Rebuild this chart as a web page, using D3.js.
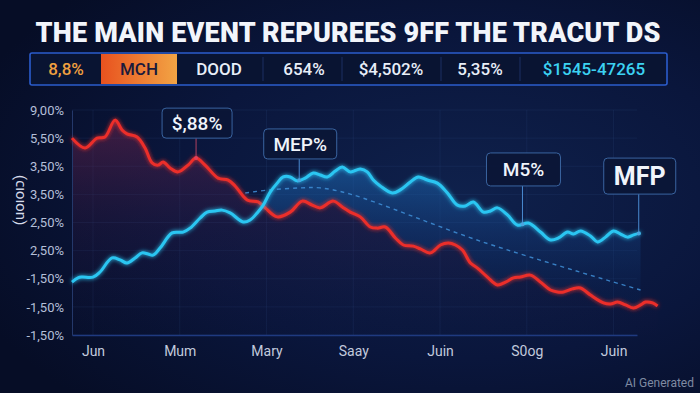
<!DOCTYPE html>
<html><head><meta charset="utf-8">
<script src="https://cdn.jsdelivr.net/npm/d3@7/dist/d3.min.js"></script>
<style>html,body{margin:0;padding:0;background:#08112e;overflow:hidden}svg{display:block}</style>
</head><body>
<script>
// ---- data ----
const title = "THE MAIN EVENT REPUREES 9FF THE TRACUT DS";
const tickerItems = ["8,8%","MCH","DOOD","654%","$4,502%","5,35%","$1545-47265"];
const xLabels = ["Jun","Mum","Mary","Saay","Juin","S0og","Juin"];
const yLabels = ["-1,50%","-1,50%","-1,50%","2,50%","2,50%","3,50%","3,50%","5,50%","9,00%"]; // bottom -> top
const yTitle = "(uoıoıɔ)";
const redSeries = [[-0.242,7.00],[-0.092,6.65],[0.046,7.00],[0.138,7.04],[0.254,7.64],[0.335,7.29],[0.392,7.15],[0.508,7.04],[0.600,6.65],[0.681,6.12],[0.750,6.04],[0.808,6.15],[0.888,5.94],[0.981,5.80],[1.096,6.04],[1.188,6.29],[1.292,6.04],[1.442,5.58],[1.558,5.51],[1.638,5.30],[1.777,4.80],[1.904,4.73],[1.985,4.52],[2.123,4.20],[2.273,4.37],[2.411,4.76],[2.527,4.62],[2.619,4.52],[2.769,4.76],[2.873,4.55],[2.965,4.37],[3.081,4.20],[3.196,3.84],[3.277,3.80],[3.369,3.84],[3.485,3.45],[3.577,3.20],[3.692,3.16],[3.773,3.06],[3.888,2.92],[4.004,3.20],[4.096,3.27],[4.177,3.20],[4.258,3.02],[4.350,2.56],[4.431,2.38],[4.546,2.06],[4.661,1.78],[4.754,1.88],[4.846,2.03],[4.927,2.06],[5.042,2.13],[5.158,1.88],[5.273,1.60],[5.354,1.53],[5.423,1.53],[5.527,1.64],[5.619,1.67],[5.734,1.42],[5.884,1.14],[5.965,1.10],[6.046,1.17],[6.138,1.07],[6.231,0.96],[6.311,1.07],[6.369,1.17],[6.450,1.14],[6.507,1.03]];
const blueSeries = [[-0.242,1.88],[-0.173,2.03],[-0.127,2.06],[0,2.06],[0.081,2.24],[0.219,2.74],[0.312,2.67],[0.392,2.56],[0.485,2.74],[0.565,2.92],[0.635,2.88],[0.692,2.84],[0.773,3.09],[0.912,3.63],[1.038,3.66],[1.119,3.80],[1.235,4.16],[1.315,4.37],[1.408,4.41],[1.488,4.44],[1.581,4.34],[1.731,4.02],[1.811,4.09],[1.892,4.34],[1.962,4.62],[2.042,5.08],[2.123,5.40],[2.192,5.62],[2.273,5.62],[2.354,5.48],[2.446,5.58],[2.538,5.76],[2.619,5.69],[2.700,5.62],[2.792,5.83],[2.873,5.97],[2.965,5.80],[3.081,5.90],[3.161,5.80],[3.231,5.51],[3.311,5.30],[3.450,5.05],[3.542,5.16],[3.658,5.44],[3.750,5.62],[3.854,5.51],[3.969,5.40],[4.085,5.05],[4.200,4.62],[4.292,4.59],[4.384,4.73],[4.500,4.37],[4.581,4.41],[4.661,4.52],[4.777,4.27],[4.892,3.91],[5.019,3.98],[5.158,3.66],[5.273,3.38],[5.365,3.45],[5.469,3.66],[5.538,3.59],[5.619,3.70],[5.734,3.52],[5.815,3.31],[5.907,3.48],[6.000,3.70],[6.081,3.59],[6.161,3.48],[6.231,3.56],[6.311,3.63]];
const trendSeries = [[1.754,5.05],[2.042,5.16],[2.388,5.23],[2.619,5.23],[2.965,5.01],[4.5,3.30],[6.311,1.60]];
const annLabels = ["$,88%","MEP%","M5%","MFP"];
const annX = [1.188,2.377,4.95,6.29];
const annSeries = ["red","blue","blue","blue"];
const annBoxLevel = [7.00,6.26,5.30,5.01];

// ---- layout ----
const W=700,H=393;
const m={left:72,right:637,top:110,bottom:335};
const x=d3.scaleLinear().domain([-0.242,6.27]).range([m.left,m.right]);
const y=d3.scaleLinear().domain([0,8]).range([m.bottom,m.top]);

const svg=d3.select("body").append("svg").attr("width",W).attr("height",H);
const defs=svg.append("defs");
const bg=defs.append("radialGradient").attr("id","bg").attr("cx","0.66").attr("cy","0.5").attr("r","0.75");
bg.append("stop").attr("offset","0").attr("stop-color","#0f214c");
bg.append("stop").attr("offset","0.55").attr("stop-color","#0a163c");
bg.append("stop").attr("offset","1").attr("stop-color","#060d26");
svg.append("rect").attr("width",W).attr("height",H).attr("fill","url(#bg)");

const gRed=defs.append("linearGradient").attr("id","gRed").attr("gradientUnits","userSpaceOnUse").attr("x1",0).attr("y1",y(7.6)).attr("x2",0).attr("y2",m.bottom);
gRed.append("stop").attr("offset","0").attr("stop-color","#8a2a55").attr("stop-opacity",0.42);
gRed.append("stop").attr("offset","0.5").attr("stop-color","#4a1c48").attr("stop-opacity",0.18);
gRed.append("stop").attr("offset","1").attr("stop-color","#201440").attr("stop-opacity",0.02);
const gBlue=defs.append("linearGradient").attr("id","gBlue").attr("gradientUnits","userSpaceOnUse").attr("x1",0).attr("y1",y(6)).attr("x2",0).attr("y2",y(1.5));
gBlue.append("stop").attr("offset","0").attr("stop-color","#1f78c8").attr("stop-opacity",0.5);
gBlue.append("stop").attr("offset","0.5").attr("stop-color","#16468a").attr("stop-opacity",0.38);
gBlue.append("stop").attr("offset","1").attr("stop-color","#0c2658").attr("stop-opacity",0.25);
const gMch=defs.append("linearGradient").attr("id","gMch");
gMch.append("stop").attr("offset","0").attr("stop-color","#e8521f");
gMch.append("stop").attr("offset","1").attr("stop-color","#f2a444");
const glow=defs.append("filter").attr("id","glow").attr("x","-10%").attr("y","-30%").attr("width","120%").attr("height","160%");
glow.append("feGaussianBlur").attr("stdDeviation",2.2).attr("result","b");
const fm=glow.append("feMerge"); fm.append("feMergeNode").attr("in","b"); fm.append("feMergeNode").attr("in","SourceGraphic");

// ---- title ----
const tt=svg.append("text").attr("x",348).attr("y",42).attr("text-anchor","middle")
 .attr("font-family","Roboto, 'Open Sans', sans-serif").attr("font-weight",900).attr("font-size",27)
 .attr("fill","#f2f5fb").text(title);
const tlen=tt.node().getComputedTextLength();
if(tlen>0){ const ls=Math.max(-1,Math.min(3,(625-tlen)/(title.length-1))); tt.attr("letter-spacing",ls.toFixed(2)); tt.attr("x",348+ls/2); }

// ---- ticker ----
const tk=svg.append("g");
tk.append("rect").attr("x",30).attr("y",53).attr("width",637).attr("height",32).attr("rx",2)
 .attr("fill","#091432").attr("stroke","#2b5ccc").attr("stroke-width",1.6);
tk.append("rect").attr("x",101).attr("y",54).attr("width",76).attr("height",30).attr("fill","url(#gMch)");
const tkCenters=[66,139,219,304,391,480,594];
const tkColors=["#f0a040","#1a1a3c","#e8eef8","#e8eef8","#e8eef8","#e8eef8","#3cd2f2"];
[263,342,441,520].forEach(sx=>tk.append("line").attr("x1",sx).attr("x2",sx).attr("y1",57).attr("y2",81).attr("stroke","#1c2f62").attr("stroke-width",1));
tk.selectAll("text.t").data(tickerItems).join("text").attr("class","t")
 .attr("x",(d,i)=>tkCenters[i]).attr("y",75).attr("text-anchor","middle")
 .attr("font-family","Roboto, 'Noto Sans', sans-serif").attr("font-weight",500).attr("font-size",17)
 .attr("fill",(d,i)=>tkColors[i]).text(d=>d);

// ---- grid ----
const grid=svg.append("g");
grid.selectAll("line.h").data(d3.range(yLabels.length)).join("line").attr("class","h")
 .attr("x1",m.left).attr("x2",m.right).attr("y1",d=>y(d)).attr("y2",d=>y(d))
 .attr("stroke","#3a5590").attr("stroke-opacity",0.16);
grid.selectAll("line.v").data(d3.range(xLabels.length)).join("line").attr("class","v")
 .attr("x1",d=>x(d)).attr("x2",d=>x(d)).attr("y1",m.top).attr("y2",m.bottom)
 .attr("stroke","#3a5590").attr("stroke-opacity",0.16);

// ---- areas ----
const curve=d3.curveCatmullRom.alpha(0.5);
const area=d3.area().x(d=>x(d[0])).y0(m.bottom).y1(d=>y(d[1])).curve(curve);
const areaTop=d3.area().x(d=>x(d[0])).y0(0).y1(d=>y(d[1])).curve(curve);
const line=d3.line().x(d=>x(d[0])).y(d=>y(d[1])).curve(curve);
defs.append("clipPath").attr("id","aboveRed").append("path").attr("d",areaTop(redSeries));
svg.append("path").attr("d",area(redSeries)).attr("fill","url(#gRed)");
svg.append("path").attr("d",area(blueSeries)).attr("fill","url(#gBlue)").attr("clip-path","url(#aboveRed)");

// ---- axes ----
const ax=svg.append("g").attr("transform",`translate(0,${m.bottom})`)
 .call(d3.axisBottom(x).tickValues(d3.range(xLabels.length)).tickFormat(i=>xLabels[i]).tickSize(0).tickPadding(11));
ax.select(".domain").attr("stroke","#1f3a80").attr("stroke-width",1.5);
ax.selectAll("text").attr("fill","#c2cadd").attr("font-size",14).attr("font-family","Roboto, 'Noto Sans', sans-serif");
const ay=svg.append("g").attr("transform",`translate(${m.left},0)`)
 .call(d3.axisLeft(y).tickValues(d3.range(yLabels.length)).tickFormat(i=>yLabels[i]).tickSize(0).tickPadding(8));
ay.select(".domain").attr("stroke","#24386a").attr("stroke-width",1);
ay.selectAll("text").attr("fill","#b4bfd8").attr("font-size",13).attr("font-family","Roboto, 'Noto Sans', sans-serif");
svg.append("text").attr("transform","translate(24,200) rotate(-90)").attr("text-anchor","middle")
 .attr("font-family","Roboto, 'Noto Sans', sans-serif").attr("font-size",15).attr("fill","#d6dcea").text(yTitle);

// ---- lines ----
svg.append("path").attr("d",line(trendSeries)).attr("fill","none").attr("stroke","#3f8fd8").attr("stroke-width",1.4).attr("stroke-dasharray","4,4").attr("stroke-opacity",0.85);
svg.append("path").attr("d",line(redSeries)).attr("fill","none").attr("stroke","#ec2f2a").attr("stroke-width",3).attr("filter","url(#glow)");
svg.append("path").attr("d",line(blueSeries)).attr("fill","none").attr("stroke","#2cc6f2").attr("stroke-width",3).attr("filter","url(#glow)");

// ---- annotations ----
function valAt(series,xv){
  for(let i=1;i<series.length;i++){ if(series[i][0]>=xv){const a=series[i-1],b=series[i];const t=(xv-a[0])/(b[0]-a[0]);return a[1]+t*(b[1]-a[1]);} }
  return series[series.length-1][1];
}
const boxSizes=[[70,30,19,500],[73,30,19,500],[74,33,19,500],[72,36,25,700]];
annLabels.forEach((lab,i)=>{
  const s=annSeries[i]==="red"?redSeries:blueSeries;
  const col=annSeries[i]==="red"?"#e0405a":"#4aa6e0";
  const ax0=x(annX[i]), ay0=y(valAt(s,annX[i]));
  const bb=y(annBoxLevel[i]);
  const [bw,bh,fs,fw]=boxSizes[i];
  const g=svg.append("g");
  g.append("line").attr("x1",ax0).attr("x2",ax0).attr("y1",bb).attr("y2",ay0).attr("stroke",annSeries[i]==="red"?"#b04060":"#4a8ad0").attr("stroke-width",1);
  g.append("circle").attr("cx",ax0).attr("cy",ay0).attr("r",2).attr("fill",col);
  g.append("rect").attr("x",ax0-bw/2+1).attr("y",bb-bh).attr("width",bw).attr("height",bh).attr("rx",4)
   .attr("fill","#0b1636").attr("fill-opacity",0.92).attr("stroke","#3a64a0").attr("stroke-width",1);
  g.append("text").attr("x",ax0+1).attr("y",bb-bh/2).attr("dy","0.36em").attr("text-anchor","middle")
   .attr("font-family","Roboto, 'Noto Sans', sans-serif").attr("font-weight",fw).attr("font-size",fs).attr("fill","#f0f4fb").text(lab);
});

svg.append("text").attr("x",694).attr("y",387).attr("text-anchor","end").attr("font-family","Roboto, sans-serif").attr("font-size",12).attr("fill","#7f8aa2").text("AI Generated");
</script>
</body></html>
